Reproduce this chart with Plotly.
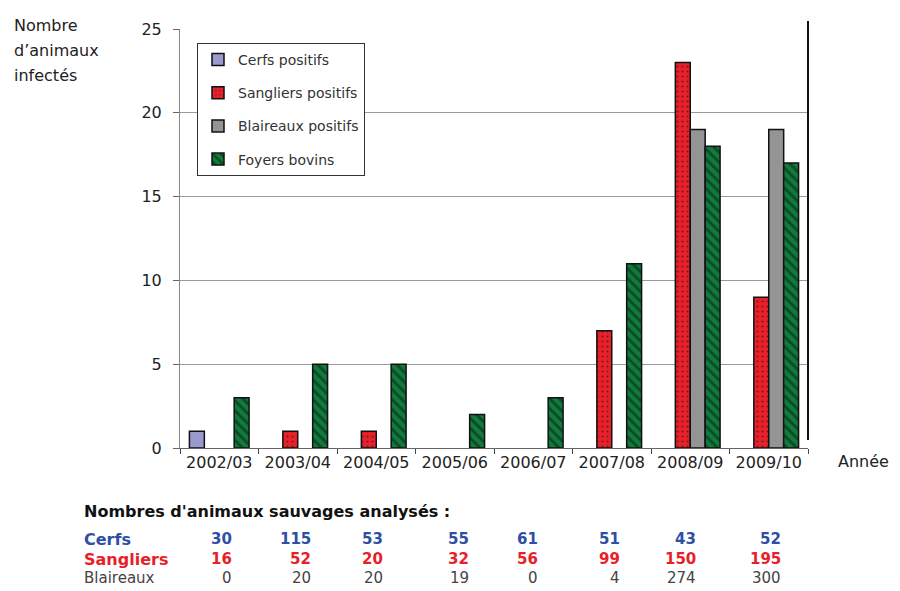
import plotly.graph_objects as go

categories = ["2002/03", "2003/04", "2004/05", "2005/06", "2006/07", "2007/08", "2008/09", "2009/10"]
cerfs_pos = [1, 0, 0, 0, 0, 0, 0, 0]
sangliers_pos = [0, 1, 1, 0, 0, 7, 23, 9]
blaireaux_pos = [0, 0, 0, 0, 0, 0, 19, 19]
foyers_bovins = [3, 5, 5, 2, 3, 11, 18, 17]

cerfs_analyses = [30, 115, 53, 55, 61, 51, 43, 52]
sangliers_analyses = [16, 52, 20, 32, 56, 99, 150, 195]
blaireaux_analyses = [0, 20, 20, 19, 0, 4, 274, 300]

OFF = 8  # page body margin
W, H = 900 - OFF, 591 - OFF
L, R, T, B = 180 - OFF, 808 - OFF, 26 - OFF, 448 - OFF


def px(x):
    return (x - OFF - L) / (R - L)


def py(y):
    return (B - (y - OFF)) / (B - T)


def nz(vals):
    return [v if v else None for v in vals]


FONT = "DejaVu Sans, Liberation Sans, Arial, sans-serif"
line = dict(color="#111", width=1.5)

fig = go.Figure()
fig.add_bar(name="Cerfs positifs", x=categories, y=nz(cerfs_pos), legendgroup="a",
            marker=dict(color="#9a9acc", line=line))
fig.add_bar(name="Sangliers positifs", x=categories, y=nz(sangliers_pos), legendgroup="b",
            marker=dict(color="#e8202a", line=line,
                        pattern=dict(shape=".", fgcolor="#111", bgcolor="#e8202a", size=5, solidity=0.15)))
fig.add_bar(name="Blaireaux positifs", x=categories, y=nz(blaireaux_pos), legendgroup="c",
            marker=dict(color="#949494", line=line))
fig.add_bar(name="Foyers bovins", x=categories, y=nz(foyers_bovins), legendgroup="d",
            marker=dict(color="#0e7d3c", line=line,
                        pattern=dict(shape="\\", fgcolor="#111", bgcolor="#0e7d3c", size=7, solidity=0.4)))

fig.update_layout(
    width=W, height=H,
    margin=dict(l=L, r=W - R, t=T, b=H - B),
    paper_bgcolor="white", plot_bgcolor="white",
    barmode="group", bargap=0.24, bargroupgap=0,
    font=dict(family=FONT, color="#222"),
    showlegend=True,
    legend=dict(x=px(197), y=py(40), xanchor="left", yanchor="top",
                bordercolor="#333", borderwidth=1, bgcolor="white",
                font=dict(size=14, color="#333"), tracegroupgap=12,
                traceorder="grouped", itemwidth=30),
    xaxis=dict(showline=True, linecolor="#666", linewidth=1, ticks="outside",
               tickson="boundaries", ticklen=5, tickcolor="#444",
               tickfont=dict(size=16, color="#222"), showgrid=False),
    yaxis=dict(range=[0, 25], dtick=5, showline=True, linecolor="#888", linewidth=1,
               ticks="outside", ticklen=6, tickcolor="#666", ticklabelstandoff=8,
               tickfont=dict(size=16, color="#222"),
               gridcolor="#9a9a9a", gridwidth=1, zeroline=False),
)

fig.add_shape(type="line", xref="paper", yref="paper", x0=1, x1=1, y0=py(440), y1=py(18),
              line=dict(color="#111", width=2))

annots = []
for txt, yy in [("Nombre", 22), ("d’animaux", 48), ("infectés", 73)]:
    annots.append(dict(text=txt, x=px(12), y=py(yy), xanchor="left",
                       yanchor="middle", showarrow=False,
                       font=dict(size=16, color="#222")))
annots.append(dict(text="Année", x=px(891), y=py(462), xanchor="right", yanchor="middle",
                   showarrow=False, font=dict(size=16, color="#222")))
annots.append(dict(text="<b>Nombres d'animaux sauvages analysés :</b>", x=px(82), y=py(512),
                   xanchor="left", yanchor="middle", showarrow=False,
                   font=dict(size=16, color="#111")))

col_right = [234, 313, 385, 471, 540, 622, 698, 783]
rows = [("Cerfs", cerfs_analyses, "#2e4fa5", True, 540, 16),
        ("Sangliers", sangliers_analyses, "#e81e28", True, 560, 16),
        ("Blaireaux", blaireaux_analyses, "#444444", False, 579, 15)]
for label, vals, color, bold, yy, fs in rows:
    t = f"<b>{label}</b>" if bold else label
    annots.append(dict(text=t, x=px(82), y=py(yy), xanchor="left", yanchor="middle",
                       showarrow=False, font=dict(size=fs, color=color)))
    for xr, v in zip(col_right, vals):
        tv = f"<b>{v}</b>" if bold else str(v)
        annots.append(dict(text=tv, x=px(xr), y=py(yy), xanchor="right", yanchor="middle",
                           showarrow=False, font=dict(size=15, color=color)))

for a in annots:
    a["xref"] = "paper"
    a["yref"] = "paper"
fig.update_layout(annotations=annots)
fig.write_html("out.html")
